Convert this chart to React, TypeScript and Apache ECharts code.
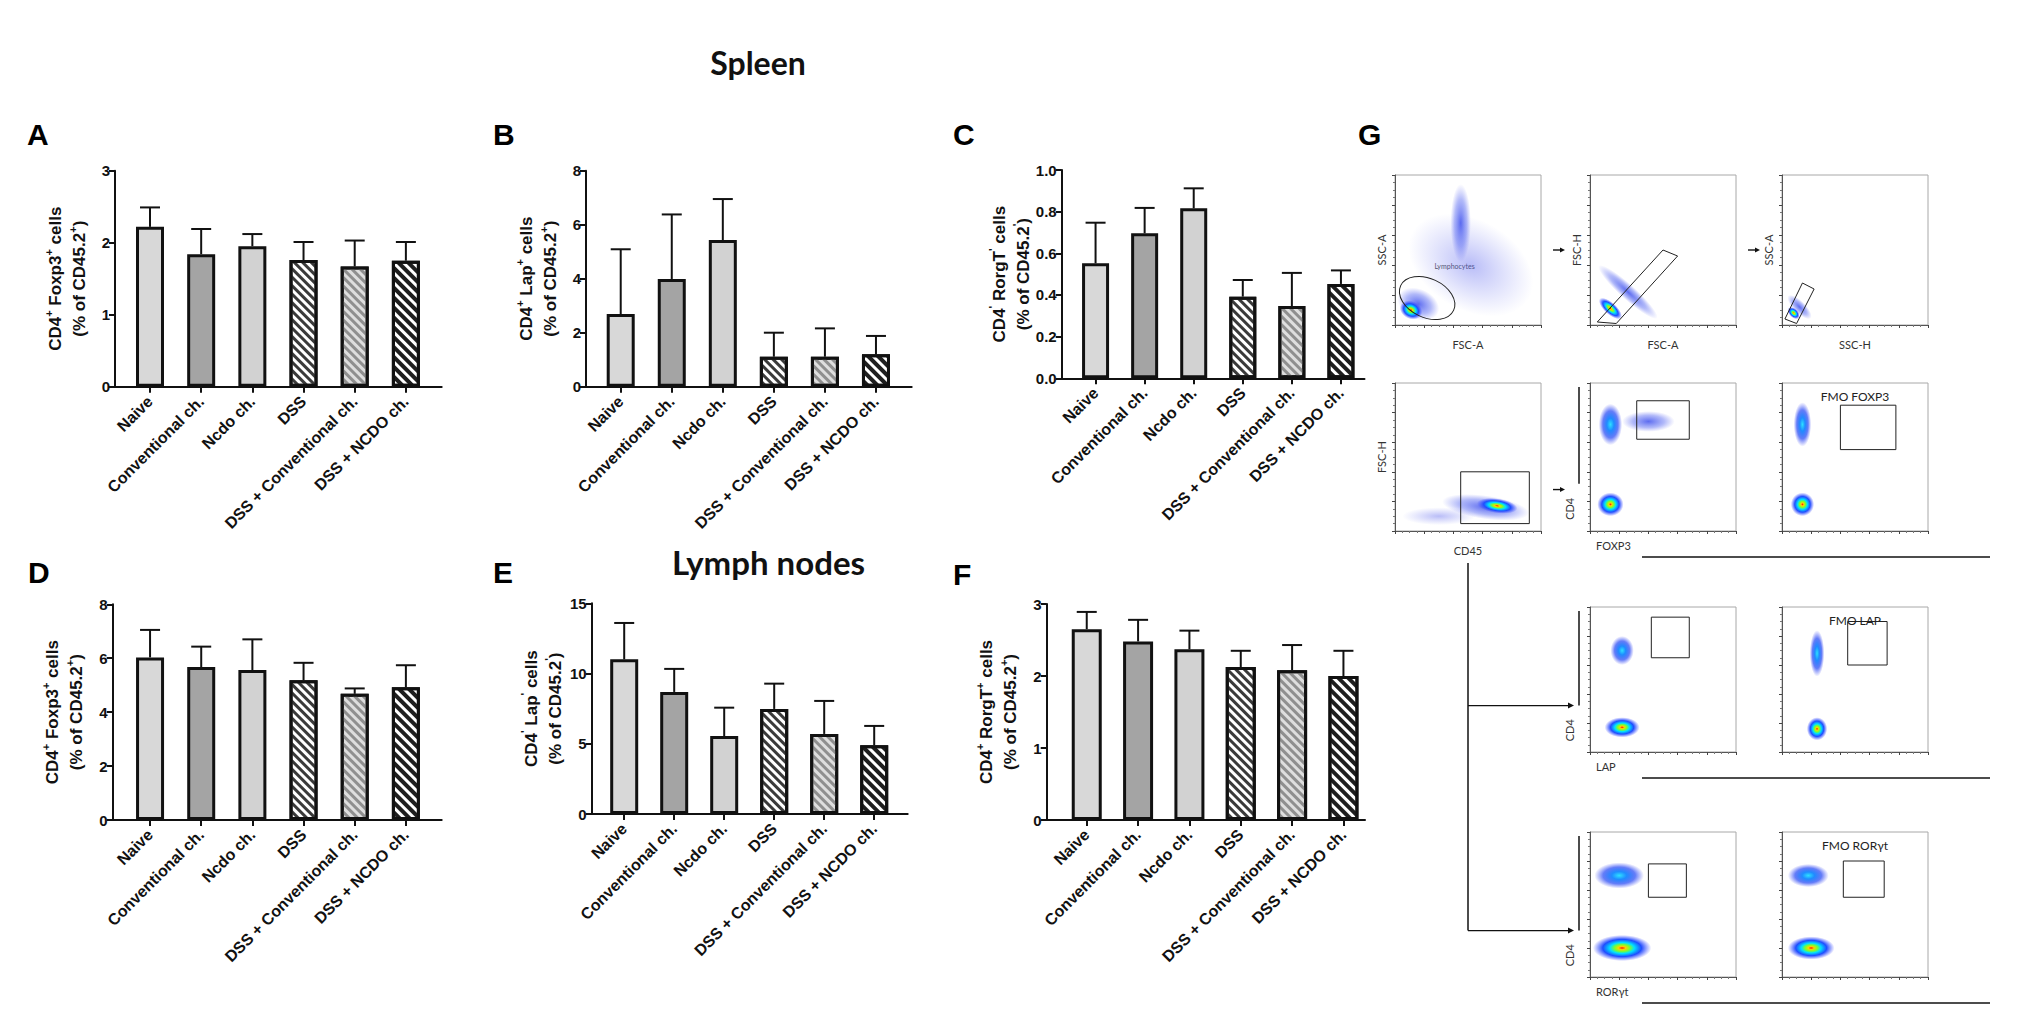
import React, { useEffect, useRef } from 'react';
import * as echarts from 'echarts';

// ---------------- data ----------------
const categories = ['Naive', 'Conventional ch.', 'Ncdo ch.', 'DSS', 'DSS + Conventional ch.', 'DSS + NCDO ch.'];
const tickPositions = [0, 1, 2, 3, 4, 5];

const spleenFoxp3Mean = [2.22, 1.84, 1.95, 1.76, 1.67, 1.75];
const spleenFoxp3Sd = [0.27, 0.35, 0.17, 0.25, 0.36, 0.26];
const spleenLapMean = [2.69, 3.99, 5.43, 1.11, 1.11, 1.2];
const spleenLapSd = [2.4, 2.39, 1.52, 0.89, 1.05, 0.68];
const spleenRorMean = [0.552, 0.696, 0.816, 0.392, 0.347, 0.453];
const spleenRorSd = [0.195, 0.122, 0.096, 0.08, 0.159, 0.065];
const lnFoxp3Mean = [6.03, 5.67, 5.56, 5.18, 4.68, 4.92];
const lnFoxp3Sd = [1.02, 0.76, 1.14, 0.65, 0.2, 0.82];
const lnLapMean = [11.01, 8.69, 5.55, 7.48, 5.7, 4.89];
const lnLapSd = [2.59, 1.64, 2.02, 1.8, 2.35, 1.38];
const lnRorMean = [2.65, 2.48, 2.37, 2.125, 2.08, 2.0];
const lnRorSd = [0.24, 0.3, 0.26, 0.225, 0.35, 0.35];

// flow cytometry density blobs: [x, y, rx, ry, rotationDeg, level]
const lymphBlobs = [[52, 40, 46, 30, 30, 0], [45, 68, 7, 26, 0, 1], [16, 14, 15, 10, 25, 1], [11, 10, 8, 6, 25, 3]];
const singletBlobs = [[26, 22, 27, 5, 42, 1], [14, 11, 10, 4, 42, 3]];
const singlet2Blobs = [[12, 12, 11, 4, 45, 1], [8, 8, 5, 3, 45, 3]];
const cd45Blobs = [[30, 10, 25, 6, 0, 0], [62, 16, 30, 8, 8, 1], [70, 17, 14, 5, 8, 3]];
const foxp3Blobs = [[14, 72, 8, 14, 0, 2], [40, 74, 18, 7, 0, 1], [14, 18, 9, 8, 0, 3]];
const foxp3FmoBlobs = [[14, 72, 6, 15, 0, 2], [14, 18, 8, 8, 0, 3]];
const lapBlobs = [[22, 70, 8, 10, 0, 2], [22, 17, 12, 7, 0, 3]];
const lapFmoBlobs = [[24, 68, 5, 16, 0, 2], [24, 16, 7, 8, 0, 3]];
const rorBlobs = [[20, 70, 17, 9, 0, 2], [22, 20, 20, 9, 0, 3]];
const rorFmoBlobs = [[18, 70, 14, 8, 0, 2], [20, 20, 16, 8, 0, 3]];

// gates
const lymphGate = { ellipse: [22, 18, 20, 13, 25] };
const singletGate = { pts: [[5, 2], [50, 50], [60, 46], [18, 1]] };
const singlet2Gate = { pts: [[2, 4], [14, 28], [22, 24], [10, 1]] };
const cd45Gate = { pts: [[45, 5], [92, 5], [92, 40], [45, 40]] };
const foxp3Gate = { pts: [[32, 62], [68, 62], [68, 88], [32, 88]] };
const foxp3FmoGate = { pts: [[40, 55], [78, 55], [78, 85], [40, 85]] };
const lapGate = { pts: [[42, 65], [68, 65], [68, 93], [42, 93]] };
const lapFmoGate = { pts: [[45, 60], [72, 60], [72, 90], [45, 90]] };
const rorGate = { pts: [[40, 55], [66, 55], [66, 78], [40, 78]] };
const rorFmoGate = { pts: [[42, 55], [70, 55], [70, 80], [42, 80]] };

// ---------------- styles ----------------
const FONT = '"Liberation Sans", Arial, Helvetica, sans-serif';
const TITLE_FONT = 'Lato, "Open Sans", sans-serif';
const barFill = ['#d8d8d8', '#a4a4a4', '#d2d2d2', '#ffffff', '#dedede', '#ffffff'];
const stripeFill = [null, null, null, '#3a3a3a', '#8f8f8f', '#1e1e1e'];
const stripeWidth = [0, 0, 0, 3, 3, 4];

const panels = [
  { mean: spleenFoxp3Mean, sd: spleenFoxp3Sd, max: 3, interval: 1, dec: 0, left: 115, right: 441.7, top: 170.7, bottom: 386.7, xmin: -0.684, xmax: 5.7, bw: 28, marker: 'Foxp3', sup: '+' },
  { mean: spleenLapMean, sd: spleenLapSd, max: 8, interval: 2, dec: 0, left: 586, right: 911.7, top: 170.7, bottom: 386.7, xmin: -0.68, xmax: 5.7, bw: 28, marker: 'Lap', sup: '+' },
  { mean: spleenRorMean, sd: spleenRorSd, max: 1, interval: 0.2, dec: 1, left: 1061.7, right: 1364.5, top: 170, bottom: 378.3, xmin: -0.69, xmax: 5.48, bw: 27, marker: 'RorgT', sup: "'" },
  { mean: lnFoxp3Mean, sd: lnFoxp3Sd, max: 8, interval: 2, dec: 0, left: 112.7, right: 441.7, top: 604.3, bottom: 820, xmin: -0.73, xmax: 5.7, bw: 28, marker: 'Foxp3', sup: '+' },
  { mean: lnLapMean, sd: lnLapSd, max: 15, interval: 5, dec: 0, left: 591.7, right: 907.7, top: 603.3, bottom: 814, xmin: -0.65, xmax: 5.67, bw: 28, marker: 'Lap', sup: "'" },
  { mean: lnRorMean, sd: lnRorSd, max: 3, interval: 1, dec: 0, left: 1046.7, right: 1365, top: 604, bottom: 820, xmin: -0.78, xmax: 5.42, bw: 30, marker: 'RorgT', sup: '+' },
];

const flowCols = [1395, 1590, 1782];
const flowW = 146;
const flowRowTop = [175, 383, 607, 832];
const flowRowH = [150, 148, 145, 145];

const flowPlots = [
  { col: 0, row: 0, xName: 'FSC-A', yName: 'SSC-A', blobs: lymphBlobs, gate: lymphGate },
  { col: 1, row: 0, xName: 'FSC-A', yName: 'FSC-H', blobs: singletBlobs, gate: singletGate },
  { col: 2, row: 0, xName: 'SSC-H', yName: 'SSC-A', blobs: singlet2Blobs, gate: singlet2Gate },
  { col: 0, row: 1, xName: 'CD45', yName: 'FSC-H', blobs: cd45Blobs, gate: cd45Gate },
  { col: 1, row: 1, blobs: foxp3Blobs, gate: foxp3Gate },
  { col: 2, row: 1, blobs: foxp3FmoBlobs, gate: foxp3FmoGate, title: 'FMO FOXP3' },
  { col: 1, row: 2, blobs: lapBlobs, gate: lapGate },
  { col: 2, row: 2, blobs: lapFmoBlobs, gate: lapFmoGate, title: 'FMO LAP' },
  { col: 1, row: 3, blobs: rorBlobs, gate: rorGate },
  { col: 2, row: 3, blobs: rorFmoBlobs, gate: rorFmoGate, title: 'FMO RORγt' },
];
const rowMarkers = ['FOXP3', 'LAP', 'RORγt'];

const blobStops: any[] = [
  [{ offset: 0, color: 'rgba(70,80,235,0.38)' }, { offset: 1, color: 'rgba(90,100,240,0)' }],
  [{ offset: 0, color: 'rgba(40,60,235,0.75)' }, { offset: 0.6, color: 'rgba(60,80,240,0.4)' }, { offset: 1, color: 'rgba(80,90,240,0)' }],
  [{ offset: 0, color: '#2de0ff' }, { offset: 0.3, color: '#1f8cff' }, { offset: 0.65, color: 'rgba(35,70,245,0.7)' }, { offset: 1, color: 'rgba(70,80,245,0)' }],
  [{ offset: 0, color: '#ff1a00' }, { offset: 0.12, color: '#ffd000' }, { offset: 0.26, color: '#7dff2a' }, { offset: 0.42, color: '#00e0ff' }, { offset: 0.66, color: '#1f4dff' }, { offset: 1, color: 'rgba(70,80,255,0)' }],
];

function arrowGroup(x1: number, y1: number, x2: number, y2: number, head = 6) {
  const ang = Math.atan2(y2 - y1, x2 - x1);
  const hx = x2 - Math.cos(ang) * head;
  const hy = y2 - Math.sin(ang) * head;
  const px = -Math.sin(ang) * head * 0.5;
  const py = Math.cos(ang) * head * 0.5;
  return [
    { type: 'line', shape: { x1, y1, x2: hx, y2: hy }, style: { stroke: '#111', lineWidth: 1.4 } },
    { type: 'polygon', shape: { points: [[x2, y2], [hx + px, hy + py], [hx - px, hy - py]] }, style: { fill: '#111' } },
  ];
}

function buildOption() {
  const grid: any[] = [];
  const xAxis: any[] = [];
  const yAxis: any[] = [];
  const series: any[] = [];

  panels.forEach((p, k) => {
    grid.push({ left: p.left, top: p.top, width: p.right - p.left, height: p.bottom - p.top });
    xAxis.push({
      gridIndex: k, type: 'value', min: p.xmin, max: p.xmax,
      axisLine: { show: true, onZero: false, lineStyle: { color: '#111', width: 2 } },
      axisTick: { show: true, customValues: tickPositions, length: 6, lineStyle: { color: '#111', width: 2 } },
      axisLabel: {
        show: true, customValues: tickPositions, rotate: 45, margin: 12, color: '#111',
        fontSize: 16, fontWeight: 'bold', fontFamily: FONT,
        formatter: (v: number) => categories[Math.round(v)] ?? '',
      },
      splitLine: { show: false },
    });
    const s = p.sup;
    yAxis.push({
      gridIndex: k, type: 'value', min: 0, max: p.max, interval: p.interval,
      axisLine: { show: true, onZero: false, lineStyle: { color: '#111', width: 2 } },
      axisTick: { show: true, length: 6, lineStyle: { color: '#111', width: 2 } },
      axisLabel: {
        color: '#111', fontSize: 15, fontWeight: 'bold', fontFamily: FONT, margin: 5,
        formatter: (v: number) => v.toFixed(p.dec),
      },
      splitLine: { show: false },
      name: `{b|CD4}{s|${s}}{b| ${p.marker}}{s|${s}}{b| cells}\n{b|(% of CD45.2}{s|${s}}{b|)}`,
      nameLocation: 'middle', nameGap: 24,
      nameTextStyle: {
        rich: {
          b: { fontSize: 17, fontWeight: 'bold', fontFamily: FONT, color: '#111', lineHeight: 24 },
          s: { fontSize: 11, fontWeight: 'bold', fontFamily: FONT, color: '#111', lineHeight: 24, verticalAlign: 'top', padding: [0, 0, 8, 0] },
        },
      },
    });
    series.push({
      type: 'bar', xAxisIndex: k, yAxisIndex: k, barWidth: p.bw, z: 3,
      data: p.mean.map((v, i) => ({
        value: [i, v],
        itemStyle: {
          color: barFill[i], borderColor: '#111', borderWidth: 3,
          decal: stripeFill[i]
            ? { symbol: 'rect', symbolSize: 1, dashArrayX: [1, 0], dashArrayY: [stripeWidth[i], 3], rotation: Math.PI / 4, color: stripeFill[i] }
            : undefined,
        },
      })),
    });
    series.push({
      type: 'custom', xAxisIndex: k, yAxisIndex: k, z: 2, silent: true,
      data: p.mean.map((v, i) => [i, v, p.sd[i]]),
      encode: { x: 0, y: 1 },
      renderItem: (params: any, api: any) => {
        const x = api.value(0), m = api.value(1), sd = api.value(2);
        const a = api.coord([x, m]);
        const b = api.coord([x, m + sd]);
        return {
          type: 'group', children: [
            { type: 'line', shape: { x1: a[0], y1: a[1], x2: b[0], y2: b[1] }, style: { stroke: '#111', lineWidth: 2 } },
            { type: 'line', shape: { x1: b[0] - 10, y1: b[1], x2: b[0] + 10, y2: b[1] }, style: { stroke: '#111', lineWidth: 2 } },
          ],
        };
      },
    });
  });

  const base = panels.length;
  flowPlots.forEach((fp, j) => {
    const g = base + j;
    const left = flowCols[fp.col];
    const top = flowRowTop[fp.row];
    const h = flowRowH[fp.row];
    grid.push({ left, top, width: flowW, height: h, show: true, borderColor: '#a8a8a8', borderWidth: 1, backgroundColor: '#fff' });
    const axisCommon = {
      gridIndex: g, type: 'value', min: 0, max: 100, interval: 20,
      axisLine: { show: true, onZero: false, lineStyle: { color: '#555', width: 1 } },
      axisTick: { show: true, length: 3, lineStyle: { color: '#444', width: 1 } },
      minorTick: { show: true, splitNumber: 4, length: 2, lineStyle: { color: '#777' } },
      axisLabel: { show: false },
      splitLine: { show: false },
      nameLocation: 'middle',
      nameTextStyle: { fontSize: 11, color: '#333', fontFamily: TITLE_FONT },
    };
    xAxis.push({ ...axisCommon, name: fp.xName || '', nameGap: 14 });
    yAxis.push({ ...axisCommon, name: fp.yName || '', nameGap: 8 });
    series.push({
      type: 'custom', xAxisIndex: g, yAxisIndex: g, clip: true, silent: true, z: 2,
      data: fp.blobs, encode: { x: 0, y: 1 },
      renderItem: (params: any, api: any) => {
        const c = api.coord([api.value(0), api.value(1)]);
        const sz = api.size([api.value(2), api.value(3)]);
        const lvl = api.value(5);
        return {
          type: 'ellipse', x: c[0], y: c[1], rotation: (-api.value(4) * Math.PI) / 180,
          shape: { cx: 0, cy: 0, rx: sz[0], ry: sz[1] },
          style: { fill: { type: 'radial', x: 0.5, y: 0.5, r: 0.5, colorStops: blobStops[lvl] } },
        };
      },
    });
    const gate: any = fp.gate;
    series.push({
      type: 'custom', xAxisIndex: g, yAxisIndex: g, clip: true, silent: true, z: 4,
      data: [[0, 0]], encode: { x: 0, y: 1 },
      renderItem: (params: any, api: any) => {
        if (gate.ellipse) {
          const [cx, cy, rx, ry, rot] = gate.ellipse;
          const c = api.coord([cx, cy]);
          const sz = api.size([rx, ry]);
          return {
            type: 'ellipse', x: c[0], y: c[1], rotation: (-rot * Math.PI) / 180,
            shape: { cx: 0, cy: 0, rx: sz[0], ry: sz[1] },
            style: { fill: 'none', stroke: '#222', lineWidth: 1 },
          };
        }
        return {
          type: 'polygon',
          shape: { points: gate.pts.map((pt: number[]) => api.coord(pt)) },
          style: { fill: 'none', stroke: '#222', lineWidth: 1 },
        };
      },
    });
  });

  // --- graphic decorations ---
  const graphic: any[] = [];
  const letter = (t: string, x: number, y: number) =>
    graphic.push({ type: 'text', x, y, style: { text: t, font: `bold 30px ${FONT}`, fill: '#000', verticalAlign: 'middle', align: 'left' } });
  letter('A', 27, 134);
  letter('B', 493, 134);
  letter('C', 953, 134);
  letter('G', 1358, 134);
  letter('D', 28, 572);
  letter('E', 493, 572);
  letter('F', 953, 574);
  graphic.push({ type: 'text', x: 758, y: 62, style: { text: 'Spleen', font: `bold 32px ${TITLE_FONT}`, fill: '#111', align: 'center', verticalAlign: 'middle' } });
  graphic.push({ type: 'text', x: 672, y: 562, style: { text: 'Lymph nodes', font: `bold 33px ${TITLE_FONT}`, fill: '#111', align: 'left', verticalAlign: 'middle' } });

  // lymphocyte gate label
  graphic.push({ type: 'text', x: flowCols[0] + flowW * 0.27, y: flowRowTop[0] + flowRowH[0] * 0.58, style: { text: 'Lymphocytes', font: `7px ${TITLE_FONT}`, fill: '#555' } });

  // arrows row 1 & 2
  const r1mid = flowRowTop[0] + flowRowH[0] / 2;
  graphic.push({ type: 'group', children: arrowGroup(flowCols[0] + flowW + 12, r1mid, flowCols[0] + flowW + 24, r1mid, 5) });
  graphic.push({ type: 'group', children: arrowGroup(flowCols[1] + flowW + 12, r1mid, flowCols[1] + flowW + 24, r1mid, 5) });
  const r2y = flowRowTop[1] + flowRowH[1] * 0.72;
  graphic.push({ type: 'group', children: arrowGroup(flowCols[0] + flowW + 12, r2y, flowCols[0] + flowW + 24, r2y, 5) });

  // CD4 bracket lines, marker labels and long x-lines for rows 2-4
  for (let r = 1; r <= 3; r++) {
    const top = flowRowTop[r];
    const h = flowRowH[r];
    const xl = flowCols[1] - 11;
    graphic.push({ type: 'line', shape: { x1: xl, y1: top + 4, x2: xl, y2: top + h * 0.68 }, style: { stroke: '#111', lineWidth: 1.5 } });
    graphic.push({ type: 'text', x: xl - 4, y: top + h * 0.85, rotation: Math.PI / 2, style: { text: 'CD4', font: `11px ${TITLE_FONT}`, fill: '#333', align: 'center', verticalAlign: 'bottom' } });
    graphic.push({ type: 'text', x: flowCols[1] + 6, y: top + h + 14, style: { text: rowMarkers[r - 1], font: `11px ${TITLE_FONT}`, fill: '#333', align: 'left', verticalAlign: 'middle' } });
    graphic.push({ type: 'line', shape: { x1: flowCols[1] + 52, y1: top + h + 26, x2: 1990, y2: top + h + 26 }, style: { stroke: '#111', lineWidth: 1.5 } });
  }

  // connector from CD45 plot to LAP and RORgt rows
  const cx = flowCols[0] + flowW / 2;
  const y3 = flowRowTop[2] + flowRowH[2] * 0.68;
  const y4 = flowRowTop[3] + flowRowH[3] * 0.68;
  graphic.push({ type: 'line', shape: { x1: cx, y1: flowRowTop[1] + flowRowH[1] + 32, x2: cx, y2: y4 }, style: { stroke: '#111', lineWidth: 1.5 } });
  graphic.push({ type: 'group', children: arrowGroup(cx, y3, flowCols[1] - 16, y3, 6) });
  graphic.push({ type: 'group', children: arrowGroup(cx, y4, flowCols[1] - 16, y4, 6) });

  // FMO titles
  flowPlots.forEach((fp) => {
    if (!fp.title) return;
    graphic.push({
      type: 'text', x: flowCols[fp.col] + flowW / 2, y: flowRowTop[fp.row] + 13,
      style: { text: fp.title, font: `12px ${TITLE_FONT}`, fill: '#222', align: 'center', verticalAlign: 'middle' },
    });
  });

  return {
    animation: false,
    backgroundColor: '#ffffff',
    grid, xAxis, yAxis, series, graphic,
  };
}

export default function App() {
  const ref = useRef<HTMLDivElement>(null);
  useEffect(() => {
    document.body.style.margin = '0';
    const chart = echarts.init(ref.current!, null, { renderer: 'svg' });
    chart.setOption(buildOption() as any);
    return () => chart.dispose();
  }, []);
  return <div ref={ref} style={{ width: 2033, height: 1017 }} />;
}
